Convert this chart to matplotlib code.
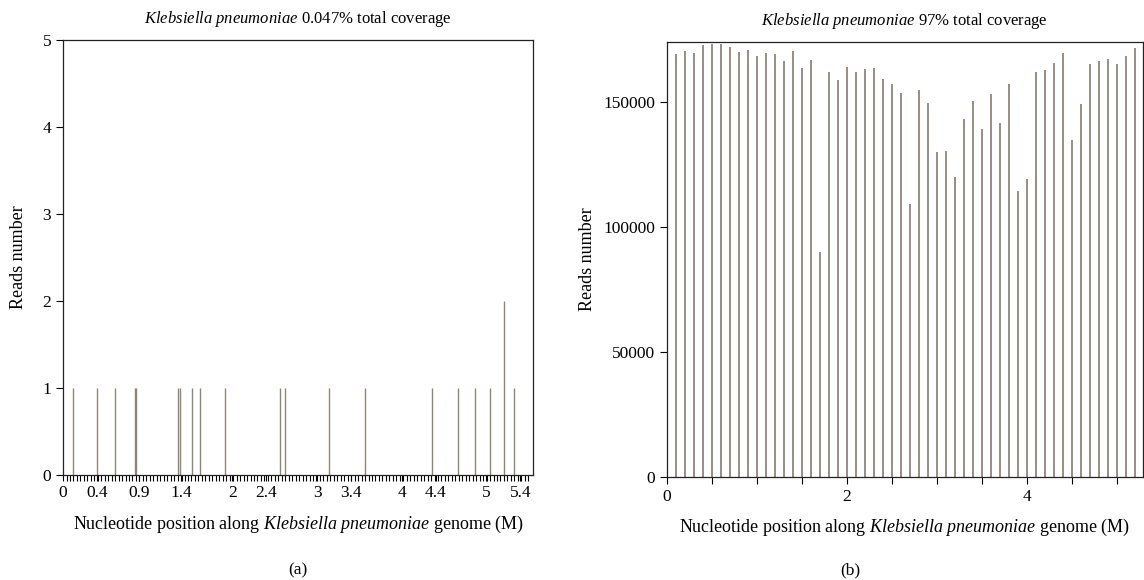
import matplotlib
matplotlib.use('Agg')
import matplotlib.pyplot as plt
import numpy as np

plt.rcParams['font.family'] = 'Liberation Serif'
plt.rcParams['mathtext.fontset'] = 'custom'
plt.rcParams['mathtext.rm'] = 'Liberation Serif'
plt.rcParams['mathtext.it'] = 'Liberation Serif:italic'

# panel (a): low coverage sample
pos_a = [0.118, 0.396, 0.613, 0.850, 0.865, 1.360, 1.376, 1.521, 1.616, 1.911,
         2.559, 2.622, 3.137, 3.565, 4.359, 4.670, 4.866, 5.043, 5.208, 5.322]
reads_a = [1, 1, 1, 1, 1, 1, 1, 1, 1, 1,
           1, 1, 1, 1, 1, 1, 1, 1, 2, 1]
ticks_a = [0, 0.4, 0.9, 1.4, 2, 2.4, 3, 3.4, 4, 4.4, 5, 5.4]
ticklabels_a = ['0', '0.4', '0.9', '1.4', '2', '2.4', '3', '3.4', '4', '4.4', '5', '5.4']

# panel (b): high coverage sample, one bin per 0.1 M
pos_b = [round(0.1 * (i + 1), 1) for i in range(52)]
reads_b = [169000, 170300, 169600, 172800, 173000, 173000, 171900, 170000, 170800, 168400,
           169600, 169000, 166400, 170300, 163600, 166800, 89900, 162000, 158800, 164000,
           162000, 163000, 163400, 159200, 157000, 153500, 109300, 154900, 149600, 130000,
           130300, 120100, 143200, 150400, 139100, 153300, 141600, 157000, 114300, 119300,
           162000, 162800, 165700, 169500, 134900, 149200, 165300, 166400, 167200, 165300,
           168500, 171700]

bar_color = '#8f8678'
title_size = 12
label_size = 13
tick_size = 12.5

fig = plt.figure(figsize=(11.44, 5.8), dpi=100)
ax1 = fig.add_axes([0.0551, 0.181, 0.4108, 0.75])
ax2 = fig.add_axes([0.583, 0.178, 0.416, 0.75])

# left panel
ax1.vlines(pos_a, 0, reads_a, color=bar_color, linewidth=1.0)
ax1.set_xlim(0, 5.55)
ax1.set_ylim(0, 5)
ax1.set_yticks(range(6))
ax1.set_xticks(ticks_a)
ax1.set_xticklabels(ticklabels_a)
ax1.set_xticks(np.arange(0, 5.5, 0.041), minor=True)
ax1.tick_params(axis='x', which='both', length=4, width=0.8, labelsize=tick_size)
ax1.tick_params(axis='y', length=5, width=0.8, labelsize=tick_size)
ax1.set_ylabel('Reads number', fontsize=label_size, labelpad=11)
ax1.set_xlabel(r'Nucleotide position along $\mathit{Klebsiella\ pneumoniae}$ genome (M)',
               fontsize=label_size, labelpad=9)
ax1.set_title(r'$\mathit{Klebsiella\ pneumoniae}$ 0.047% total coverage',
              fontsize=title_size, pad=12)

# right panel
ax2.vlines(pos_b, 0, reads_b, color=bar_color, linewidth=1.3)
ax2.set_xlim(0, 5.29)
ax2.set_ylim(0, 174000)
ax2.set_yticks([0, 50000, 100000, 150000])
ax2.set_xticks([0, 2, 4])
ax2.set_xticks(np.arange(0, 5.3, 0.5), minor=True)
ax2.tick_params(axis='x', which='both', length=5, width=0.8, labelsize=tick_size)
ax2.tick_params(axis='y', length=5, width=0.8, labelsize=tick_size)
ax2.set_ylabel('Reads number', fontsize=label_size, labelpad=5)
ax2.set_xlabel(r'Nucleotide position along $\mathit{Klebsiella\ pneumoniae}$ genome (M)',
               fontsize=label_size, labelpad=9)
ax2.set_title(r'$\mathit{Klebsiella\ pneumoniae}$ 97% total coverage',
              fontsize=title_size, pad=12)

for ax in (ax1, ax2):
    for s in ax.spines.values():
        s.set_linewidth(0.9)
        s.set_color('#222222')

fig.text(0.2605, 0.01, '(a)', ha='center', fontsize=12.5)
fig.text(0.743, 0.01, '(b)', ha='center', fontsize=12.5)

fig.savefig('out.png', dpi=100)
